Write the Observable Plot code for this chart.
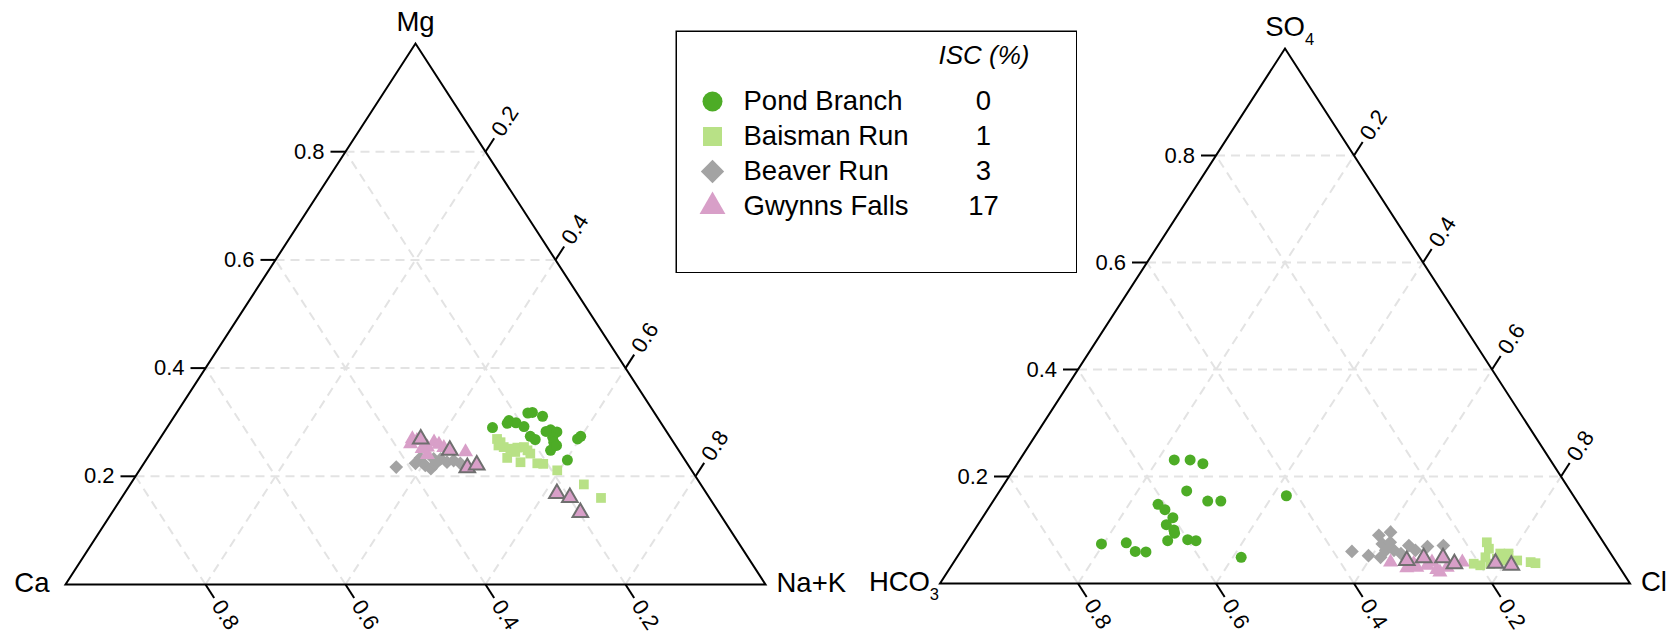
<!DOCTYPE html>
<html><head><meta charset="utf-8">
<script src="https://cdn.jsdelivr.net/npm/d3@7"></script>
<script src="https://cdn.jsdelivr.net/npm/@observablehq/plot@0.6"></script>
<style>
html,body{margin:0;padding:0;background:#fff;}
#wrap{position:relative;width:1666px;height:634px;font-family:"Liberation Sans",Arial,Helvetica,sans-serif;}
#wrap > div{position:absolute;top:0;}
</style></head>
<body>
<div id="wrap">
  <div id="left" style="left:0px"></div>
  <div id="right" style="left:833px"></div>
  <div id="legend" style="left:675px;top:30px"></div>
</div>
<script>
// ---------------- data ----------------
const sites = ["Pond Branch", "Baisman Run", "Beaver Run", "Gwynns Falls"];
const iscPercent = ["0", "1", "3", "17"];
const siteColors = ["#4dac26", "#b8e186", "#a3a3a3", "#d89fc8"];
const siteSymbols = ["circle", "square", "diamond2", "triangle"];
const gridTicks = [0.2, 0.4, 0.6, 0.8];
const tickLabels = ["0.2", "0.4", "0.6", "0.8"];
const cationLabels = [["Ca", ""], ["Mg", ""], ["Na+K", ""]];
const anionLabels = [["HCO", "3"], ["SO", "4"], ["Cl", ""]];

// cations: [Ca, Mg, Na+K]
const pondCations = [[0.245,0.290,0.465],[0.215,0.303,0.482],[0.207,0.299,0.494],[0.199,0.292,0.509],[0.181,0.317,0.502],[0.174,0.318,0.508],[0.163,0.311,0.526],[0.199,0.274,0.527],[0.195,0.268,0.537],[0.164,0.286,0.550],[0.157,0.282,0.561],[0.168,0.272,0.560],[0.171,0.263,0.566],[0.183,0.248,0.569],[0.170,0.257,0.573],[0.134,0.269,0.597],[0.127,0.274,0.599],[0.168,0.230,0.602],[0.220,0.298,0.482],[0.172,0.283,0.545]];
const baismanCations = [[0.249,0.269,0.482],[0.253,0.257,0.490],[0.247,0.254,0.499],[0.239,0.251,0.510],[0.228,0.253,0.519],[0.218,0.254,0.528],[0.215,0.242,0.543],[0.252,0.234,0.514],[0.237,0.226,0.537],[0.214,0.224,0.562],[0.206,0.223,0.571],[0.192,0.211,0.597],[0.167,0.185,0.648],[0.155,0.160,0.685],[0.247,0.263,0.490],[0.235,0.245,0.520],[0.216,0.248,0.536]];
const beaverCations = [[0.419,0.217,0.364],[0.388,0.224,0.388],[0.376,0.234,0.390],[0.376,0.220,0.404],[0.371,0.214,0.415],[0.360,0.223,0.417],[0.348,0.232,0.420],[0.342,0.226,0.432],[0.331,0.229,0.440],[0.324,0.224,0.452],[0.358,0.232,0.410]];
const gwynnsCations = [[0.370,0.269,0.361],[0.377,0.260,0.363],[0.365,0.266,0.369],[0.356,0.254,0.390],[0.342,0.263,0.395],[0.337,0.259,0.404],[0.333,0.253,0.414],[0.363,0.240,0.397],[0.306,0.245,0.449],[0.365,0.251,0.384]];
const gwynnsMarkedCations = [[0.358,0.269,0.373],[0.327,0.248,0.425],[0.318,0.216,0.466],[0.302,0.221,0.477],[0.214,0.168,0.618],[0.199,0.161,0.640],[0.198,0.133,0.669]];

// anions: [HCO3, SO4, Cl]
const pondAnions = [[0.545,0.231,0.224],[0.522,0.231,0.247],[0.507,0.224,0.269],[0.556,0.173,0.271],[0.535,0.154,0.311],[0.516,0.154,0.330],[0.610,0.148,0.242],[0.605,0.138,0.257],[0.601,0.123,0.276],[0.617,0.110,0.273],[0.611,0.100,0.289],[0.613,0.094,0.293],[0.630,0.080,0.290],[0.600,0.082,0.318],[0.589,0.080,0.331],[0.729,0.074,0.197],[0.692,0.076,0.232],[0.687,0.060,0.253],[0.672,0.059,0.269],[0.539,0.049,0.412],[0.416,0.164,0.420]];
const baismanAnions = [[0.169,0.077,0.754],[0.172,0.065,0.763],[0.185,0.049,0.766],[0.208,0.037,0.755],[0.200,0.034,0.766],[0.160,0.056,0.784],[0.148,0.056,0.796],[0.161,0.043,0.796],[0.124,0.040,0.836],[0.118,0.038,0.844],[0.142,0.043,0.815],[0.170,0.046,0.784],[0.184,0.037,0.779]];
const beaverAnions = [[0.373,0.060,0.567],[0.353,0.052,0.595],[0.319,0.090,0.591],[0.299,0.096,0.605],[0.322,0.074,0.604],[0.323,0.062,0.615],[0.337,0.049,0.614],[0.311,0.062,0.627],[0.304,0.056,0.640],[0.285,0.071,0.644],[0.280,0.062,0.658],[0.259,0.069,0.672],[0.235,0.071,0.694],[0.309,0.077,0.614]];
const gwynnsAnions = [[0.327,0.040,0.633],[0.309,0.029,0.662],[0.294,0.030,0.676],[0.277,0.034,0.689],[0.267,0.026,0.707],[0.250,0.030,0.720],[0.223,0.040,0.737],[0.267,0.040,0.693],[0.295,0.037,0.668],[0.265,0.021,0.714]];
const gwynnsMarkedAnions = [[0.302,0.043,0.655],[0.275,0.048,0.677],[0.247,0.048,0.705],[0.236,0.037,0.727],[0.176,0.038,0.786],[0.155,0.034,0.811]];

// ---------------- drawing ----------------
const FONT = "Liberation Sans, Arial, Helvetica, sans-serif";
const TITLE_SIZE = 27.5, TICK_SIZE = 22, SUB_SIZE = 16.5;

// ternary composition [left, top, right] -> plane coordinates
const tx = c => c[2] + c[1] / 2;
const ty = c => c[1];

function ternaryPanel(cfg) {
  const {width, height, mL, mR, mT, mB, labels, series, subDx, subDy, leftDx, rightDx} = cfg;
  const W = width - mL - mR, H = height - mT - mB;
  const slant = Math.hypot(W / 2, H);
  const ang = Math.atan2(H, W / 2) * 180 / Math.PI;
  const seg = (a, b) => ({x1: tx(a), y1: ty(a), x2: tx(b), y2: ty(b)});
  const grid = gridTicks.flatMap(t => [
    seg([1 - t, t, 0], [0, t, 1 - t]),
    seg([1 - t, 0, t], [0, 1 - t, t]),
    seg([t, 0, 1 - t], [t, 1 - t, 0])
  ]);
  const hT = 15 / W, sT = 16 / slant;
  const hL = 21 / W, sL = 21 / slant;
  const ticks = gridTicks.flatMap(t => [
    seg([1 - t, t, 0], [1 - t + hT, t, -hT]),
    seg([0, 1 - t, t], [-sT, 1 - t + sT, t]),
    seg([t, 0, 1 - t], [t, -sT, 1 - t + sT])
  ]);
  const leftLab = gridTicks.map((t, i) => ({c: [1 - t + hL, t, -hL], s: tickLabels[i]}));
  const rightLab = gridTicks.map((t, i) => ({c: [-sL, 1 - t + sL, t], s: tickLabels[i]}));
  const bottomLab = gridTicks.map((t, i) => ({c: [t, -sL, 1 - t + sL], s: tickLabels[i]}));
  const outline = [[1, 0, 0], [0, 0, 1], [0, 1, 0], [1, 0, 0], [0, 0, 1]];
  const vx = [[1, 0, 0], [0, 1, 0], [0, 0, 1]];

  const marks = [
    Plot.link(grid, {x1: "x1", y1: "y1", x2: "x2", y2: "y2", stroke: "#e3e3e3", strokeWidth: 2, strokeDasharray: "9,6"}),
    Plot.line(outline, {x: tx, y: ty, stroke: "#000", strokeWidth: 2, strokeLinejoin: "miter", strokeMiterlimit: 10}),
    Plot.link(ticks, {x1: "x1", y1: "y1", x2: "x2", y2: "y2", stroke: "#000", strokeWidth: 2}),
    Plot.text(leftLab, {x: d => tx(d.c), y: d => ty(d.c), text: "s", textAnchor: "end", lineAnchor: "middle", fontSize: TICK_SIZE, fill: "#000"}),
    Plot.text(rightLab, {x: d => tx(d.c), y: d => ty(d.c), text: "s", textAnchor: "start", lineAnchor: "middle", rotate: -ang, fontSize: TICK_SIZE, fill: "#000"}),
    Plot.text(bottomLab, {x: d => tx(d.c), y: d => ty(d.c), text: "s", textAnchor: "start", lineAnchor: "middle", rotate: ang, fontSize: TICK_SIZE, fill: "#000"}),
    // vertex titles
    Plot.text([vx[0]], {x: tx, y: ty, text: () => labels[0][0], textAnchor: "end", lineAnchor: "bottom", dx: leftDx, dy: 7, fontSize: TITLE_SIZE, fill: "#000"}),
    Plot.text([vx[1]], {x: tx, y: ty, text: () => labels[1][0], textAnchor: "middle", lineAnchor: "bottom", dy: -13, fontSize: TITLE_SIZE, fill: "#000"}),
    Plot.text([vx[2]], {x: tx, y: ty, text: () => labels[2][0], textAnchor: "start", lineAnchor: "bottom", dx: rightDx, dy: 7, fontSize: TITLE_SIZE, fill: "#000"}),
  ];
  if (labels[0][1]) marks.push(Plot.text([vx[0]], {x: tx, y: ty, text: () => labels[0][1], textAnchor: "end", lineAnchor: "bottom", dx: -1, dy: 16, fontSize: SUB_SIZE, fill: "#000"}));
  if (labels[1][1]) marks.push(Plot.text([vx[1]], {x: tx, y: ty, text: () => labels[1][1], textAnchor: "start", lineAnchor: "bottom", dx: subDx, dy: subDy, fontSize: SUB_SIZE, fill: "#000"}));

  // points
  const pointR = [5.5, 5.5, 6.2, 5.6];
  series.forEach((s, i) => {
    marks.push(Plot.dot(s, {x: tx, y: ty, r: pointR[i], fill: siteColors[i], symbol: siteSymbols[i]}));
  });
  marks.push(Plot.dot(cfg.marked, {x: tx, y: ty, r: 5.8, fill: siteColors[3], symbol: "triangle", stroke: "#6f6f6f", strokeWidth: 2}));

  return Plot.plot({
    width, height,
    marginLeft: mL, marginRight: mR, marginTop: mT, marginBottom: mB,
    x: {domain: [0, 1], axis: null},
    y: {domain: [0, 1], axis: null},
    style: {fontFamily: FONT, background: "transparent", overflow: "visible"},
    marks
  });
}

document.getElementById("left").appendChild(ternaryPanel({
  width: 833, height: 634, mL: 65, mR: 68, mT: 43, mB: 50,
  labels: cationLabels,
  series: [pondCations, baismanCations, beaverCations, gwynnsCations],
  marked: gwynnsMarkedCations,
  leftDx: -16, rightDx: 11, subDx: 0, subDy: 0
}));

document.getElementById("right").appendChild(ternaryPanel({
  width: 833, height: 634, mL: 106.5, mR: 36.5, mT: 48, mB: 51,
  labels: anionLabels,
  series: [pondAnions, baismanAnions, beaverAnions, gwynnsAnions],
  marked: gwynnsMarkedAnions,
  leftDx: -10, rightDx: 11, subDx: 20, subDy: -4
}));

// legend
const legendR = [10, 10.7, 10.5, 9.6];
const legendMarks = [
  Plot.frame({stroke: "#000", strokeWidth: 1.5, inset: 0.75}),
  Plot.text(["ISC (%)"], {frameAnchor: "top-left", dx: 263, dy: 33, text: d => d, textAnchor: "start", lineAnchor: "bottom", fontStyle: "italic", fontSize: 26, fill: "#000"}),
  Plot.text(sites, {y: d => d, frameAnchor: "left", dx: 68, text: d => d, textAnchor: "start", lineAnchor: "middle", fontSize: TITLE_SIZE, fill: "#000"}),
  Plot.text(sites, {y: d => d, frameAnchor: "left", dx: 308, text: (d, i) => iscPercent[i], textAnchor: "middle", lineAnchor: "middle", fontSize: TITLE_SIZE, fill: "#000"})
];
sites.forEach((s, i) => legendMarks.push(Plot.dot([s], {y: d => d, frameAnchor: "left", dx: 37, r: legendR[i], fill: siteColors[i], symbol: siteSymbols[i]})));

document.getElementById("legend").appendChild(Plot.plot({
  width: 402, height: 243, margin: 0,
  y: {type: "point", domain: sites, range: [70, 176], padding: 0, axis: null},
  style: {fontFamily: FONT, background: "#fff"},
  marks: legendMarks
}));
</script>
</body></html>
